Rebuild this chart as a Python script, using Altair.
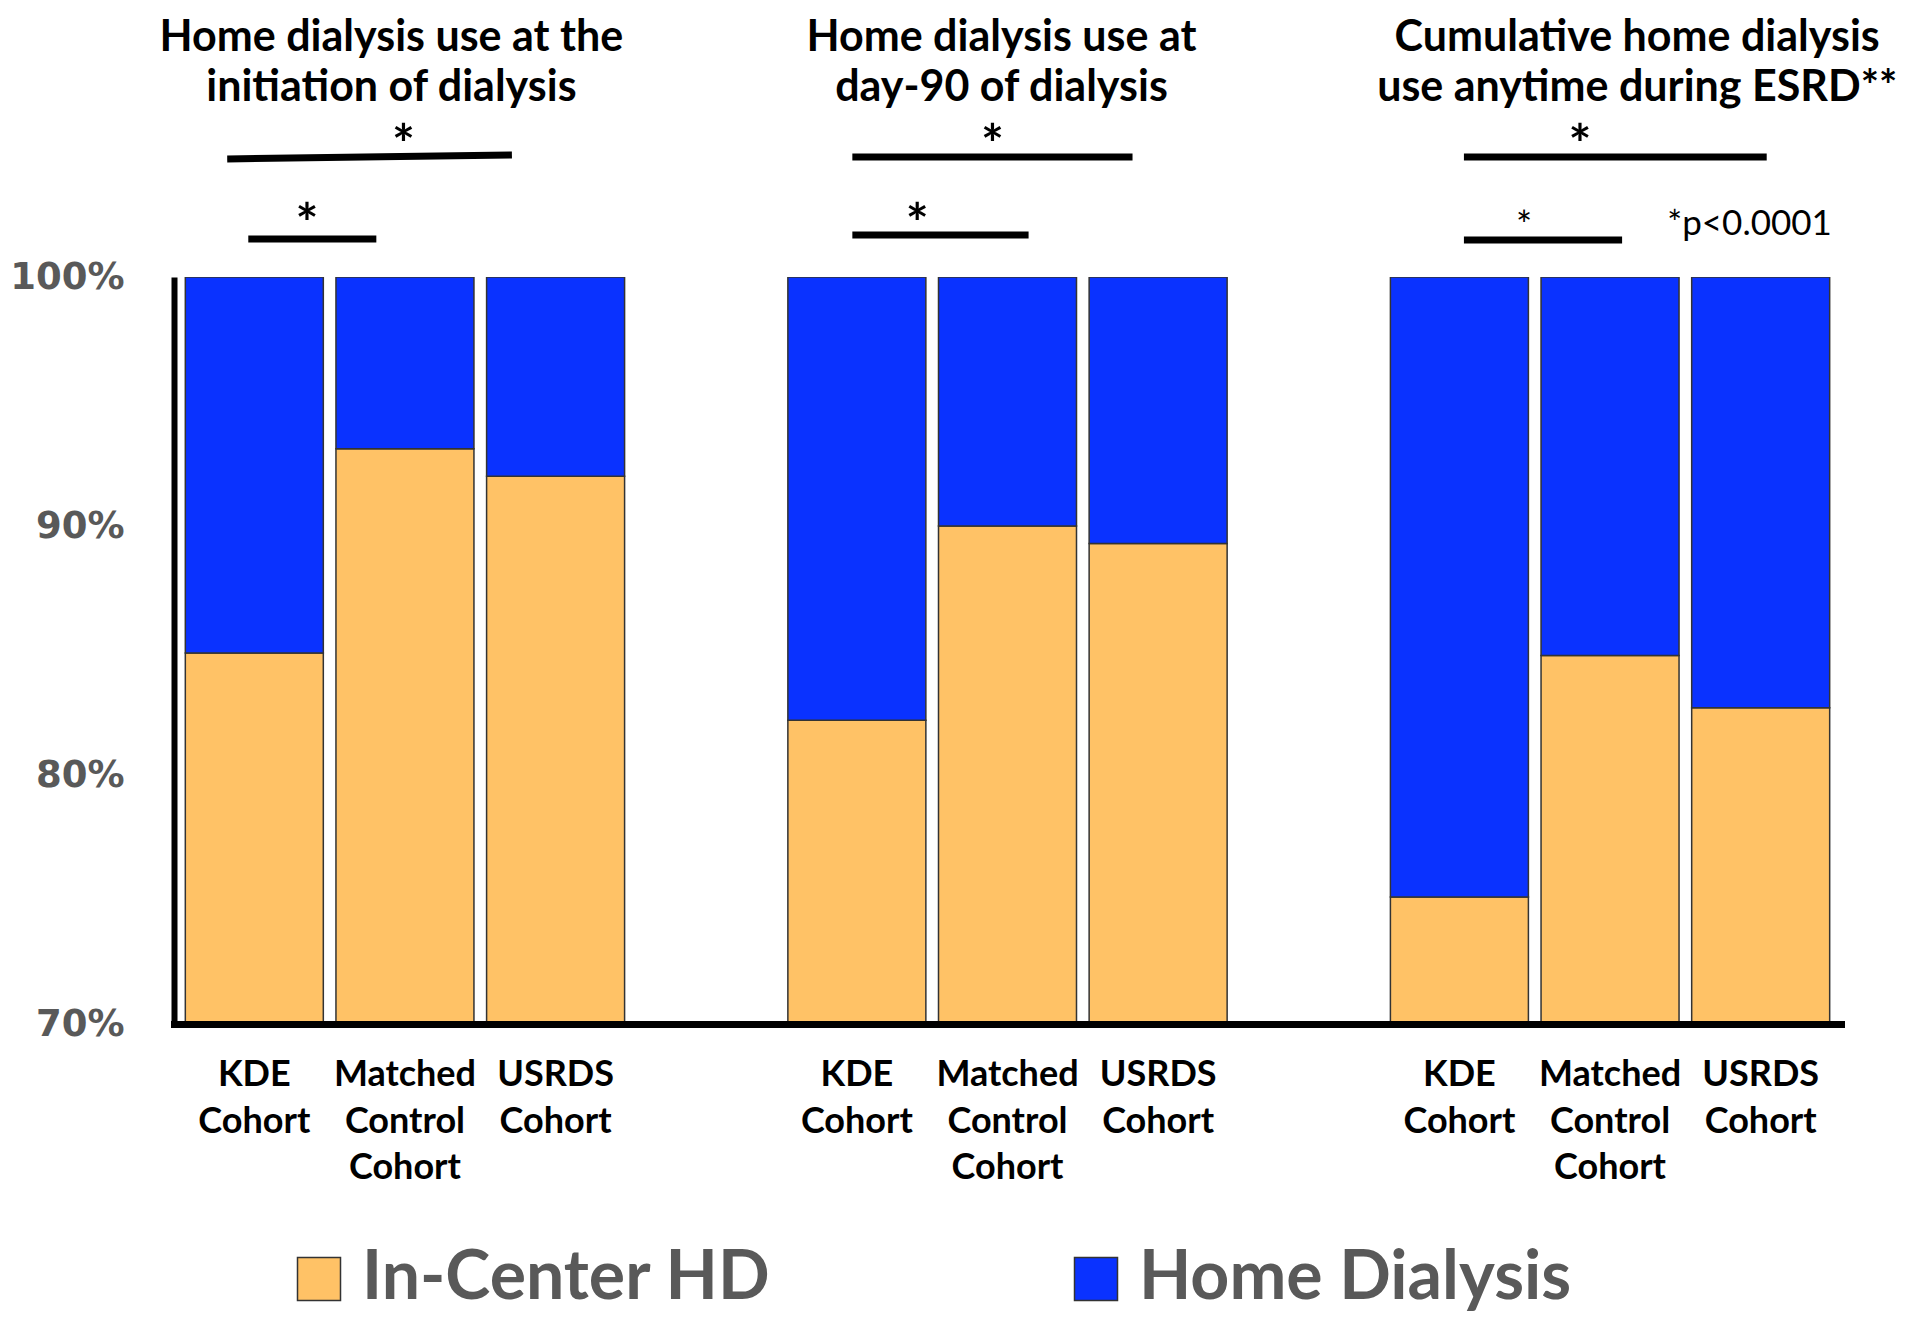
import altair as alt
import pandas as pd

# ---------------- data ----------------
panel_titles = [
    "Home dialysis use at the\ninitiation of dialysis",
    "Home dialysis use at\nday-90 of dialysis",
    "Cumulative home dialysis\nuse anytime during ESRD**",
]
title_x = [0.91, 4.96, 9.18]          # centre of each title, in bar-slot units
title_y = 109.08                      # baseline of first title line, percent units
cohorts = ["KDE\nCohort", "Matched\nControl\nCohort", "USRDS\nCohort"]
modalities = ["In-Center HD", "Home Dialysis"]

# percent of patients (y axis 70%-100%)
in_center_pct = [
    [84.9, 93.1, 92.0],
    [82.2, 90.0, 89.3],
    [75.1, 84.8, 82.7],
]
home_pct = [
    [15.1, 6.9, 8.0],
    [17.8, 10.0, 10.7],
    [24.9, 15.2, 17.3],
]

# significance brackets (x in bar-slot units, y in percent units)
bracket_x1 = [-0.18, -0.04, 3.97, 3.97, 8.03, 8.03]
bracket_x2 = [1.71, 0.81, 5.83, 5.14, 10.04, 9.08]
bracket_y1 = [104.74, 101.53, 104.82, 101.69, 104.82, 101.49]
bracket_y2 = [104.90, 101.53, 104.82, 101.69, 104.82, 101.49]
star_x = [0.99, 0.35, 4.90, 4.40, 8.80]
star_y = [104.58, 101.41, 104.58, 101.41, 104.58]
small_star_x = [8.43]
small_star_y = [101.53]
pvalue_text = ["*p<0.0001"]
pvalue_x = [9.38]
pvalue_y = [101.69]

# ---------------- tables ----------------
slots_per_group = len(cohorts) + 1
rows = []
for g in range(len(panel_titles)):
    for b, cohort in enumerate(cohorts):
        slot = g * slots_per_group + b
        rows.append({"slot": slot, "cohort": cohort, "modality": modalities[0],
                     "pct": in_center_pct[g][b], "order": 0})
        rows.append({"slot": slot, "cohort": cohort, "modality": modalities[1],
                     "pct": home_pct[g][b], "order": 1})
bars_df = pd.DataFrame(rows)

labels_df = pd.DataFrame([
    {"slot": g * slots_per_group + b, "label": c, "base": 70}
    for g in range(len(panel_titles)) for b, c in enumerate(cohorts)
])
titles_df = pd.DataFrame({"slot": title_x, "title": panel_titles, "y": [title_y] * 3})
brackets_df = pd.DataFrame({"x1": bracket_x1, "x2": bracket_x2, "y1": bracket_y1, "y2": bracket_y2})
stars_df = pd.DataFrame({"x": star_x, "y": star_y, "t": ["*"] * len(star_x)})
small_df = pd.DataFrame({"x": small_star_x, "y": small_star_y, "t": ["*"]})
p_df = pd.DataFrame({"x": pvalue_x, "y": pvalue_y, "t": pvalue_text})

# ---------------- scales ----------------
xscale = alt.Scale(domain=[-0.5, 10.5], nice=False, zero=False)
yscale = alt.Scale(domain=[70, 100], nice=False, zero=False)

x_axis = alt.Axis(labels=False, ticks=False, grid=False, domainColor="black",
                  domainWidth=7, domainCap="square", zindex=1, title=None)
y_axis = alt.Axis(values=[70, 80, 90, 100], labelExpr="datum.value + '%'",
                  labelFont="DejaVu Sans", labelFontSize=37, labelFontWeight="bold",
                  labelColor="#595959", labelPadding=50, ticks=False, tickSize=0,
                  grid=False, domainColor="black", domainWidth=6, zindex=1, title=None)

bars = alt.Chart(bars_df).mark_bar(width=138, clip=True, stroke="#333333", strokeWidth=1.5).encode(
    x=alt.X("slot:Q", scale=xscale, axis=x_axis),
    y=alt.Y("pct:Q", stack="zero", scale=yscale, axis=y_axis),
    color=alt.Color("modality:N",
                    scale=alt.Scale(domain=modalities, range=["#FFC266", "#0A32FF"]),
                    legend=alt.Legend(orient="none", legendX=111, legendY=968,
                                      direction="horizontal", title=None,
                                      symbolType="square", symbolSize=1849,
                                      symbolStrokeColor="#333333", symbolStrokeWidth=1.5,
                                      symbolOpacity=1,
                                      labelFont="Lato", labelFontSize=68,
                                      labelFontWeight="bold", labelColor="#595959",
                                      labelOffset=9, columnPadding=290, labelLimit=0)),
    order=alt.Order("order:Q"),
)

cohort_text = alt.Chart(labels_df).mark_text(
    font="Lato", fontSize=36, fontWeight="bold", color="black", align="center",
    baseline="alphabetic", dy=62, lineBreak="\n", lineHeight=46.5,
).encode(x=alt.X("slot:Q", scale=xscale), y=alt.Y("base:Q", scale=yscale), text="label:N")

title_text = alt.Chart(titles_df).mark_text(
    font="Lato", fontSize=43, fontWeight="bold", color="black", align="center",
    baseline="alphabetic", lineBreak="\n", lineHeight=50,
).encode(x=alt.X("slot:Q", scale=xscale), y=alt.Y("y:Q", scale=yscale), text="title:N")

bracket_rules = alt.Chart(brackets_df).mark_rule(color="black", strokeWidth=7).encode(
    x=alt.X("x1:Q", scale=xscale), x2="x2:Q",
    y=alt.Y("y1:Q", scale=yscale), y2="y2:Q",
)

star_text = alt.Chart(stars_df).mark_text(
    font="Lato", fontSize=54, fontWeight="bold", color="black", align="center", baseline="alphabetic",
).encode(x=alt.X("x:Q", scale=xscale), y=alt.Y("y:Q", scale=yscale), text="t:N")

small_star_text = alt.Chart(small_df).mark_text(
    font="Lato", fontSize=38, color="black", align="center", baseline="alphabetic",
).encode(x=alt.X("x:Q", scale=xscale), y=alt.Y("y:Q", scale=yscale), text="t:N")

p_text = alt.Chart(p_df).mark_text(
    font="Lato", fontSize=35, color="black", align="left", baseline="alphabetic",
).encode(x=alt.X("x:Q", scale=xscale), y=alt.Y("y:Q", scale=yscale), text="t:N")

chart = alt.layer(bars, cohort_text, title_text, bracket_rules, star_text,
                  small_star_text, p_text).properties(
    width=1667, height=747,
    padding={"left": 166, "top": 269, "right": 71, "bottom": 296},
    autosize=alt.AutoSizeParams(type="none"),
    background="white",
).configure_view(stroke=None)

chart.save("out.html", embed_options={"renderer": "svg", "actions": False})
